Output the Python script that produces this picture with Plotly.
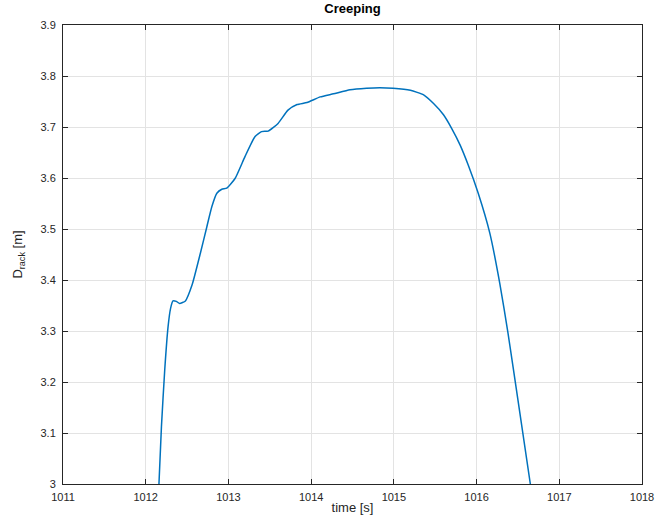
import plotly.graph_objects as go

time_s = [1012.16, 1012.19, 1012.23, 1012.27, 1012.30, 1012.33, 1012.37, 1012.41, 1012.48,
          1012.56, 1012.66, 1012.74, 1012.80, 1012.86, 1012.92, 1012.98, 1013.08, 1013.20,
          1013.32, 1013.40, 1013.48, 1013.60, 1013.72, 1013.83, 1013.95, 1014.11, 1014.27,
          1014.47, 1014.67, 1014.83, 1014.99, 1015.20, 1015.36, 1015.48, 1015.60, 1015.70,
          1015.80, 1015.90, 1016.02, 1016.16, 1016.28, 1016.38, 1016.50, 1016.65]
d_rack = [3.000, 3.112, 3.224, 3.308, 3.344, 3.359, 3.358, 3.354, 3.359,
          3.390, 3.452, 3.505, 3.544, 3.570, 3.578, 3.580, 3.599, 3.642,
          3.681, 3.691, 3.692, 3.707, 3.733, 3.744, 3.748, 3.759, 3.765,
          3.773, 3.776, 3.777, 3.776, 3.772, 3.763, 3.746, 3.724, 3.697,
          3.665, 3.625, 3.570, 3.492, 3.394, 3.296, 3.165, 3.000]

x_ticks = [1011, 1012, 1013, 1014, 1015, 1016, 1017, 1018]
y_ticks = [3.0, 3.1, 3.2, 3.3, 3.4, 3.5, 3.6, 3.7, 3.8, 3.9]
y_tick_text = ["3", "3.1", "3.2", "3.3", "3.4", "3.5", "3.6", "3.7", "3.8", "3.9"]

fig = go.Figure()
fig.add_trace(go.Scatter(x=time_s, y=d_rack, mode="lines",
                         line=dict(color="#0072BD", width=1.5, shape="spline", smoothing=0.5),
                         showlegend=False))

font = "Liberation Sans, Arial, Helvetica, sans-serif"
axis_common = dict(showgrid=True, gridcolor="#E3E3E3", gridwidth=1,
                   showline=True, linecolor="#262626", linewidth=1, mirror="allticks",
                   ticks="inside", ticklen=5, tickcolor="#262626",
                   tickfont=dict(family=font, size=11, color="#262626"),
                   zeroline=False, automargin=False)

fig.update_layout(
    width=659, height=523,
    margin=dict(l=63, r=17, t=25, b=39, autoexpand=False),
    plot_bgcolor="white", paper_bgcolor="white",
    title=dict(text="<b>Creeping</b>", x=0.5, xref="paper", xanchor="center",
               y=1, yref="container", yanchor="top", pad=dict(t=4),
               font=dict(family=font, size=13, color="black")),
    xaxis=dict(range=[1011, 1018], tickvals=x_ticks, ticktext=[str(v) for v in x_ticks],
               ticklabelstandoff=3,
               title=dict(text="time [s]", font=dict(family=font, size=13, color="#262626"), standoff=0),
               **axis_common),
    yaxis=dict(range=[3.0, 3.9], tickvals=y_ticks, ticktext=y_tick_text,
               ticklabelstandoff=4,
               title=dict(text="D<sub>rack</sub> [m]", font=dict(family=font, size=13, color="#262626"), standoff=14),
               **axis_common),
)

fig.write_html("out.html")
